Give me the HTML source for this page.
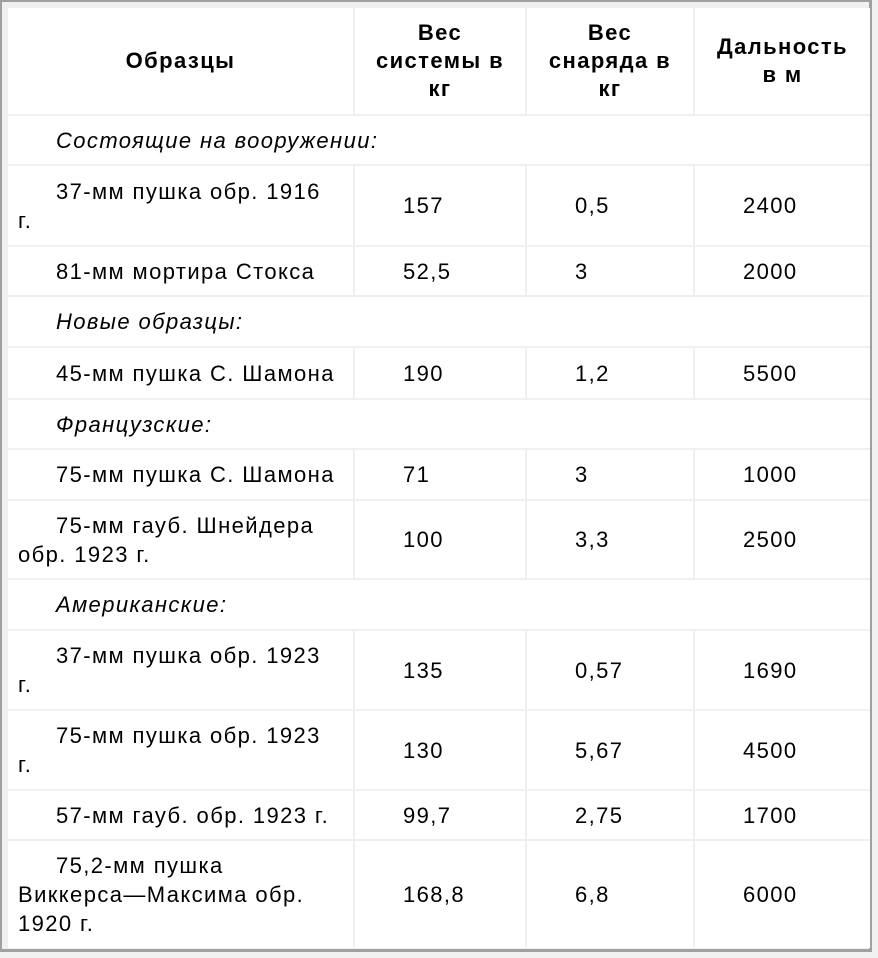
<!DOCTYPE html>
<html><head><meta charset="utf-8"><style>
html,body{margin:0;padding:0;background:#f0f0f0;}
.frame{position:absolute;left:0;top:0;width:872px;height:952px;border-top:2px solid #a0a0a0;border-left:2px solid #a0a0a0;border-right:3px solid #a0a0a0;border-bottom:3px solid #a0a0a0;box-sizing:border-box;background:#f0f0f0;}
table{position:absolute;left:8px;top:8px;width:862px;border-collapse:collapse;table-layout:fixed;background:#fff;font-family:"Liberation Sans",Arial,sans-serif;font-size:22px;letter-spacing:1.4px;color:#000;}
td{border:2px solid #f0f0f0;vertical-align:middle;padding:0;line-height:29px;}
tr td:first-child{border-left:none}
tr td:last-child{border-right:none}
tr:first-child td{border-top:none}
tr:last-child td{border-bottom:none}
.h td{font-weight:bold;text-align:center;line-height:28px;}
.n{padding:0 4px 0 10px;text-indent:38px;white-space:nowrap;}
.v{padding-left:48px;}
.s{font-style:italic;padding-left:48px;}
</style></head><body>
<div class="frame"></div>
<table>
<col style="width:346px"><col style="width:172px"><col style="width:168px"><col style="width:176px">
<tr class="h" style="height:107px"><td>Образцы</td><td>Вес<br>системы в<br>кг</td><td>Вес<br>снаряда в<br>кг</td><td>Дальность<br>в м</td></tr>
<tr style="height:50px"><td colspan="4" class="s">Состоящие на вооружении:</td></tr>
<tr style="height:81px"><td class="n">37-мм пушка обр. 1916<br>г.</td><td class="v">157</td><td class="v">0,5</td><td class="v">2400</td></tr>
<tr style="height:50px"><td class="n">81-мм мортира Стокса</td><td class="v">52,5</td><td class="v">3</td><td class="v">2000</td></tr>
<tr style="height:51px"><td colspan="4" class="s">Новые образцы:</td></tr>
<tr style="height:52px"><td class="n">45-мм пушка С. Шамона</td><td class="v">190</td><td class="v">1,2</td><td class="v">5500</td></tr>
<tr style="height:50px"><td colspan="4" class="s">Французские:</td></tr>
<tr style="height:51px"><td class="n">75-мм пушка С. Шамона</td><td class="v">71</td><td class="v">3</td><td class="v">1000</td></tr>
<tr style="height:79px"><td class="n">75-мм гауб. Шнейдера<br>обр. 1923 г.</td><td class="v">100</td><td class="v">3,3</td><td class="v">2500</td></tr>
<tr style="height:51px"><td colspan="4" class="s">Американские:</td></tr>
<tr style="height:80px"><td class="n">37-мм пушка обр. 1923<br>г.</td><td class="v">135</td><td class="v">0,57</td><td class="v">1690</td></tr>
<tr style="height:80px"><td class="n">75-мм пушка обр. 1923<br>г.</td><td class="v">130</td><td class="v">5,67</td><td class="v">4500</td></tr>
<tr style="height:50px"><td class="n">57-мм гауб. обр. 1923 г.</td><td class="v">99,7</td><td class="v">2,75</td><td class="v">1700</td></tr>
<tr style="height:108px"><td class="n">75,2-мм пушка<br>Виккерса—Максима обр.<br>1920 г.</td><td class="v">168,8</td><td class="v">6,8</td><td class="v">6000</td></tr>
</table>
</body></html>
